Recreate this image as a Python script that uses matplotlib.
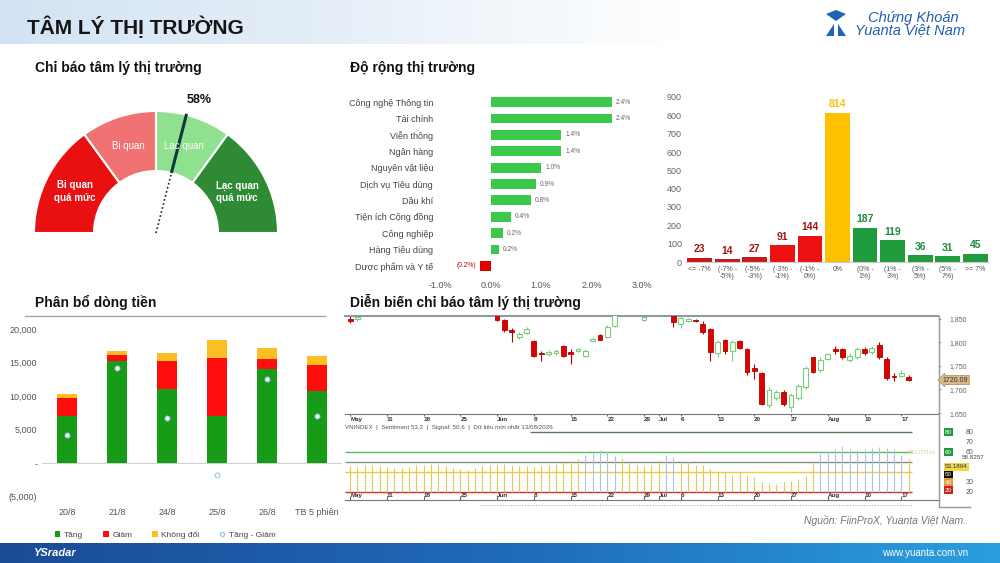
import numpy as np
import matplotlib
matplotlib.use("Agg")
import matplotlib.pyplot as plt
from matplotlib import font_manager as fm
from matplotlib.patches import Wedge, Polygon, Patch
from matplotlib.lines import Line2D
from matplotlib.colors import LinearSegmentedColormap
import matplotlib.transforms as mtransforms

plt.rcParams['font.family'] = ['Liberation Sans', 'DejaVu Sans']
names = {f.name for f in fm.fontManager.ttflist}
narrow = 'Liberation Sans Narrow' if 'Liberation Sans Narrow' in names else 'Liberation Sans'

# ---------------- data ----------------
gauge_bounds = [0, 30, 50, 70, 100]
gauge_labels = ['Bi quan\nquá mức', 'Bi quan', 'Lạc quan', 'Lạc quan\nquá mức']
gauge_value = 58

sectors = ['Công nghệ Thông tin', 'Tài chính', 'Viễn thông', 'Ngân hàng', 'Nguyên vật liệu',
           'Dịch vụ Tiêu dùng', 'Dầu khí', 'Tiện ích Cộng đồng', 'Công nghiệp',
           'Hàng Tiêu dùng', 'Dược phẩm và Y tế']
sector_chg = [2.4, 2.4, 1.4, 1.4, 1.0, 0.9, 0.8, 0.4, 0.24, 0.16, -0.2]

bins = ['<= -7%', '(-7% -\n-5%)', '(-5% -\n-3%)', '(-3% -\n-1%)', '(-1% -\n0%)', '0%',
        '(0% -\n1%)', '(1% -\n3%)', '(3% -\n5%)', '(5% -\n7%)', '>= 7%']
bin_counts = [23, 14, 27, 91, 144, 814, 187, 119, 36, 31, 45]

flow_days = ['20/8', '21/8', '24/8', '25/8', '26/8', 'TB 5 phiên']
flow_up = [7000, 15200, 11000, 7000, 14000, 10800]
flow_down = [2700, 1000, 4200, 8700, 1500, 3800]
flow_flat = [700, 500, 1300, 2600, 1600, 1400]

# VNINDEX candles (trading-day index from 04/05), only those visible in the window
cdl_day = [0, 1, 20, 21, 22, 23, 24, 25, 26, 27, 28, 29, 30, 31, 32, 33, 34, 35, 36, 40,
           44, 45, 46, 47, 48, 49, 50, 51, 52, 53, 54, 55, 56, 57, 58, 59, 60, 61, 62, 63,
           64, 65, 66, 67, 68, 69, 70, 71, 72, 73, 74, 75, 76]
cdl_open = [1850, 1849, 1860, 1847, 1826, 1812, 1820, 1803, 1778, 1775, 1778, 1792, 1780, 1782, 1772, 1803, 1816, 1812, 1835, 1848,
            1856, 1840, 1846, 1848, 1838, 1828, 1778, 1805, 1782, 1802, 1785, 1745, 1735, 1668, 1682, 1695, 1662, 1682, 1705, 1768,
            1742, 1765, 1785, 1785, 1762, 1768, 1785, 1780, 1795, 1765, 1728, 1728, 1727]
cdl_high = [1856, 1858, 1865, 1850, 1830, 1822, 1832, 1805, 1782, 1783, 1785, 1795, 1785, 1788, 1786, 1812, 1818, 1836, 1860, 1858,
            1860, 1856, 1852, 1850, 1845, 1830, 1805, 1808, 1805, 1804, 1788, 1755, 1738, 1705, 1698, 1698, 1692, 1712, 1750, 1770,
            1768, 1778, 1792, 1788, 1778, 1790, 1790, 1792, 1800, 1768, 1736, 1742, 1730]
cdl_low = [1842, 1846, 1845, 1822, 1800, 1808, 1818, 1770, 1760, 1772, 1774, 1770, 1755, 1780, 1768, 1800, 1805, 1810, 1832, 1846,
           1832, 1830, 1844, 1844, 1818, 1760, 1770, 1775, 1760, 1785, 1730, 1722, 1668, 1660, 1678, 1664, 1652, 1678, 1700, 1735,
           1738, 1762, 1775, 1765, 1758, 1765, 1774, 1776, 1765, 1720, 1718, 1726, 1718]
cdl_close = [1845, 1853, 1847, 1826, 1822, 1818, 1828, 1772, 1775, 1780, 1782, 1772, 1776, 1786, 1782, 1808, 1806, 1832, 1858, 1854,
             1844, 1852, 1850, 1845, 1822, 1780, 1800, 1782, 1800, 1788, 1738, 1740, 1670, 1700, 1694, 1670, 1688, 1708, 1745, 1738,
             1762, 1775, 1782, 1768, 1772, 1786, 1778, 1788, 1768, 1724, 1726, 1734, 1720.09]

sentiment = [46, 45, 47, 47, 46, 45, 44, 44, 45, 47,
             47, 48, 47, 46, 44, 43, 42, 44, 46, 47,
             47, 48, 47, 46, 46, 45, 46, 47, 48, 49,
             51, 53, 57, 59, 62, 60, 56, 54, 50, 47,
             46, 47, 52, 57, 55, 50, 50, 47, 47, 43,
             40, 40, 37, 40, 37, 35, 30, 28, 28, 30,
             31, 33, 36, 50, 58, 61, 63, 66, 63, 62,
             63, 64, 65, 64, 63, 57, 53]

tick_days = [0, 5, 10, 15, 20, 25, 30, 35, 40, 42, 45, 50, 55, 60, 65, 70, 75]
tick_labels = ['May', '11', '18', '25', 'Jun', '8', '15', '22', '29', 'Jul',
               '6', '13', '20', '27', 'Aug', '10', '17']

# ---------------- figure ----------------
W, H = 1000, 563
fig = plt.figure(figsize=(10, 5.63), dpi=100)


def ax_at(x0, y0, x1, y1, **kw):
    return fig.add_axes([x0 / W, 1 - y1 / H, (x1 - x0) / W, (y1 - y0) / H], **kw)


bg = fig.add_axes([0, 0, 1, 1], zorder=-10)
bg.set_xlim(0, W)
bg.set_ylim(H, 0)
bg.axis('off')

head_cm = LinearSegmentedColormap.from_list('head', ['#d3e3f3', '#e6eff8', '#ffffff'])
bg.imshow(np.clip(np.arange(W) / 680, 0, 1)[None, :], cmap=head_cm, aspect='auto',
          extent=(0, W, 44, 0), vmin=0, vmax=1)
foot_cm = LinearSegmentedColormap.from_list('foot', ['#1a4b96', '#1f6ab8', '#2a9edf'])
bg.imshow(np.linspace(0, 1, 200)[None, :], cmap=foot_cm, aspect='auto',
          extent=(0, W, H, 543), vmin=0, vmax=1)

fig.text(27 / W, 1 - 27 / H, 'TÂM LÝ THỊ TRƯỜNG', fontsize=15, fontweight='bold',
         family=[narrow, 'DejaVu Sans'], color='#151515', va='center')

# logo
for pts in ([(826, 14), (836, 10), (836, 21)], [(846, 14), (836, 10), (836, 21)],
            [(826, 36), (834, 24), (834, 36)], [(846, 36), (838, 24), (838, 36)]):
    bg.add_patch(Polygon(pts, closed=True, fc='#1f64b0', ec='none'))
fig.text(868 / W, 1 - 18 / H, 'Chứng Khoán', fontsize=10.5, style='italic', color='#1f5fae', va='center')
fig.text(855 / W, 1 - 30 / H, 'Yuanta Việt Nam', fontsize=10.5, style='italic', color='#1f5fae', va='center')

# footer
fig.text(33 / W, 1 - 553 / H, 'YSradar', fontsize=8, style='italic', fontweight='bold', color='white', va='center')
fig.text(968 / W, 1 - 553 / H, 'www.yuanta.com.vn', fontsize=7, color='white', va='center', ha='right')
fig.text(966 / W, 1 - 521 / H, 'Nguồn: FiinProX, Yuanta Việt Nam.', fontsize=7.5, style='italic',
         color='#777777', va='center', ha='right')

# section titles
for x, y, t in [(35, 68, 'Chỉ báo tâm lý thị trường'), (350, 68, 'Độ rộng thị trường'),
                (35, 302, 'Phân bổ dòng tiền'), (350, 302, 'Diễn biến chỉ báo tâm lý thị trường')]:
    fig.text(x / W, 1 - y / H, t, fontsize=10, fontweight='bold', color='#111111', va='center')
bg.plot([25, 325], [316, 316], color='#a6a6a6', lw=1)

# ---------------- gauge ----------------
gauge_colors = ['#e81010', '#f07272', '#8fe08f', '#2e8b34']
axg = ax_at(16, 95, 296, 245)
axg.set_xlim(-140, 140)
axg.set_ylim(-12, 138)
axg.axis('off')
for i in range(4):
    t1 = 180 - gauge_bounds[i + 1] * 1.8
    t2 = 180 - gauge_bounds[i] * 1.8
    axg.add_patch(Wedge((0, 0), 122, t1, t2, width=60, fc=gauge_colors[i], ec='white', lw=1.5))
    mid = np.deg2rad((t1 + t2) / 2)
    axg.text(91 * np.cos(mid), 91 * np.sin(mid), gauge_labels[i], ha='center', va='center',
             color='white', fontsize=7, fontweight='bold' if i in (0, 3) else 'normal', linespacing=1.3)
ang = np.deg2rad(180 - gauge_value * 1.8)
axg.plot([0, 62 * np.cos(ang)], [0, 62 * np.sin(ang)], ls=(0, (1, 1.5)), color='#222222', lw=1.2)
axg.plot([62 * np.cos(ang), 123 * np.cos(ang)], [62 * np.sin(ang), 123 * np.sin(ang)],
         color='#103838', lw=2.2, solid_capstyle='butt')
axg.text(123 * np.cos(ang) + 13, 123 * np.sin(ang) + 8, f'{gauge_value}%', ha='center', va='bottom',
         fontsize=9, fontweight='bold', color='#111111')

# ---------------- sector breadth ----------------
axs = ax_at(440, 94, 642, 274)
ys = np.arange(len(sectors))
axs.barh(ys, sector_chg, height=0.6, color=['#3cc84a' if v >= 0 else '#e00000' for v in sector_chg])
axs.set_ylim(len(sectors) - 0.5, -0.5)
axs.set_xlim(-1, 3)
axs.set_yticks(ys)
axs.set_yticklabels(sectors, fontsize=6.5, color='#444444')
axs.set_xticks([-1, 0, 1, 2, 3])
axs.set_xticklabels(['-1.0%', '0.0%', '1.0%', '2.0%', '3.0%'], fontsize=6.5, color='#555555')
axs.tick_params(length=0, pad=5)
for sp in axs.spines.values():
    sp.set_visible(False)
for v, yy in zip(sector_chg, ys):
    if v >= 0:
        axs.text(v + 0.08, yy, f'{v:.1f}%', va='center', ha='left', fontsize=4.8, color='#666666')
    else:
        axs.text(v - 0.08, yy, f'({abs(v):.1f}%)', va='center', ha='right', fontsize=4.8, color='#c00000')

# ---------------- distribution ----------------
axd = ax_at(686, 97, 989, 262)
bar_cols = ['#c81818'] * 3 + ['#ee1111'] * 2 + ['#ffc000'] + ['#1f9a3c'] * 5
lab_cols = ['#a01818'] * 5 + ['#ffc000'] + ['#1f8a38'] * 5
axd.bar(range(len(bin_counts)), bin_counts, width=0.9, color=bar_cols)
for i, v in enumerate(bin_counts):
    axd.text(i, v + 18, str(v), ha='center', va='bottom', fontsize=7.5, fontweight='bold', color=lab_cols[i])
axd.set_xlim(-0.5, len(bin_counts) - 0.5)
axd.set_ylim(0, 900)
axd.set_yticks(range(0, 1000, 100))
axd.set_yticklabels([str(v) for v in range(0, 1000, 100)], fontsize=6.5, color='#666666')
axd.set_xticks(range(len(bins)))
axd.set_xticklabels(bins, fontsize=5, color='#555555', linespacing=1.0)
axd.tick_params(length=0, pad=3)
for k in ('left', 'top', 'right'):
    axd.spines[k].set_visible(False)
axd.spines['bottom'].set_color('#cccccc')

# ---------------- money flow ----------------
axf = ax_at(42, 329, 342, 497)
xf = np.arange(len(flow_days))
up = np.array(flow_up)
dn = np.array(flow_down)
fl = np.array(flow_flat)
axf.axhline(0, color='#d0d0d0', lw=0.8, zorder=0)
axf.bar(xf, up, 0.4, color='#169c16')
axf.bar(xf, dn, 0.4, bottom=up, color='#ff0d0d')
axf.bar(xf, fl, 0.4, bottom=up + dn, color='#fbbf24')
axf.scatter(xf, up - dn, s=12, facecolor='white', edgecolor='#9cc8ea', lw=0.8, zorder=3)
axf.set_xlim(-0.5, len(flow_days) - 0.5)
axf.set_ylim(-5000, 20000)
axf.set_yticks([-5000, 0, 5000, 10000, 15000, 20000])
axf.set_yticklabels(['(5,000)', '-', '5,000', '10,000', '15,000', '20,000'], fontsize=6.5, color='#555555')
axf.set_xticks(xf)
axf.set_xticklabels(flow_days, fontsize=6.5, color='#555555')
axf.tick_params(length=0)
axf.tick_params(axis='x', pad=8)
for sp in axf.spines.values():
    sp.set_visible(False)
handles = [Patch(fc='#169c16'), Patch(fc='#ff0d0d'), Patch(fc='#fbbf24'),
           Line2D([], [], marker='o', ls='', mfc='white', mec='#9cc8ea', ms=3)]
fig.legend(handles, ['Tăng', 'Giảm', 'Không đổi', 'Tăng - Giảm'], loc='center',
           bbox_to_anchor=(165 / W, 1 - 535 / H), ncol=4, frameon=False, fontsize=6,
           handlelength=0.7, handleheight=0.7, columnspacing=2.4, handletextpad=0.4,
           labelcolor='#444444')

# ---------------- candles ----------------
axc = ax_at(345, 316, 938, 414)
o = np.array(cdl_open)
c = np.array(cdl_close)
h = np.array(cdl_high)
lo = np.array(cdl_low)
d = np.array(cdl_day)
upm = c >= o
axc.vlines(d[upm], lo[upm], h[upm], color='#78cf78', lw=0.8)
axc.vlines(d[~upm], lo[~upm], h[~upm], color='#b00000', lw=0.8)
axc.bar(d[upm], c[upm] - o[upm], bottom=o[upm], width=0.65, facecolor='white',
        edgecolor='#78cf78', lw=0.8, zorder=3)
axc.bar(d[~upm], o[~upm] - c[~upm], bottom=c[~upm], width=0.65, facecolor='#e00000',
        edgecolor='#b00000', lw=0.6, zorder=3)
axc.set_xlim(-0.7, 80)
axc.set_ylim(1648, 1856)
axc.yaxis.tick_right()
axc.set_yticks([1650, 1700, 1750, 1800, 1850])
axc.set_yticklabels(['1,650', '1,700', '1,750', '1,800', '1,850'], fontsize=5, color='#666666')
axc.tick_params(axis='y', length=2, pad=6, color='#999999')
axc.set_xticks(tick_days)
axc.set_xticklabels(tick_labels, fontsize=4.5, color='#333333', ha='left', fontweight='bold')
axc.tick_params(axis='x', length=1.5, pad=0.5, color='#666666')
axc.spines['left'].set_visible(False)
axc.spines['right'].set_visible(False)
axc.spines['top'].set_color('#8d9aa6')
axc.spines['top'].set_linewidth(1.5)
axc.spines['bottom'].set_color('#777777')
tr_c = mtransforms.blended_transform_factory(axc.transAxes, axc.transData)
axc.text(1.008, cdl_close[-1], f'{cdl_close[-1]:.2f}', transform=tr_c, fontsize=5, color='#333333',
         va='center', ha='left', bbox=dict(boxstyle='larrow,pad=0.15', fc='#d9b88c', ec='#b08850', lw=0.5))

fig.text(345 / W, 1 - 428 / H, 'VNINDEX  |  Sentiment 53.2  |  Signal: 50.6  |  Dữ liệu mới nhất 13/08/2026',
         fontsize=4.5, color='#555555', va='center')

# ---------------- sentiment ----------------
axm = ax_at(345, 428, 938, 500)
sd = np.arange(len(sentiment))
sv = np.array(sentiment)
axm.hlines(80, 24.5, len(sentiment) - 0.5, color='#5a7a5a', lw=1)
for lvl, col in [(60, '#5cb85c'), (50, '#8a8a8a'), (40, '#e8d040'), (20, '#d03030')]:
    axm.hlines(lvl, -0.7, len(sentiment) - 0.5, color=col, lw=1, zorder=1)
axm.vlines(sd, 20, sv, colors=['#a9c4dc' if v >= 55 else '#e8c850' for v in sv], lw=0.8, zorder=2)
axm.set_xlim(-0.7, 80)
axm.set_ylim(12, 84)
axm.set_xticks(tick_days)
axm.set_xticklabels(tick_labels, fontsize=4.5, color='#333333', ha='left', fontweight='bold')
axm.tick_params(axis='x', direction='in', length=3, pad=-5, color='#666666')
axm.yaxis.tick_right()
axm.set_yticks([80, 70, 60, 30, 20])
axm.set_yticklabels(['80', '70', '60', '30', '20'], fontsize=5, color='#555555')
axm.tick_params(axis='y', length=0, pad=20)
for k in ('left', 'top', 'right'):
    axm.spines[k].set_visible(False)
axm.spines['bottom'].set_color('#777777')
tr_m = mtransforms.blended_transform_factory(axm.transAxes, axm.transData)
for yv, txt, fc, tc in [(80, '80', '#1e9b3c', 'white'), (60, '60', '#1e9b3c', 'white'),
                        (45, '53.1894', '#f0d84a', '#333333'), (37, '50', '#111111', 'white'),
                        (30, '40', '#e89a3a', 'white'), (22, '20', '#cc2222', 'white')]:
    axm.text(1.012, yv, txt, transform=tr_m, fontsize=4.5, color=tc, va='center', ha='left',
             bbox=dict(boxstyle='square,pad=0.2', fc=fc, ec='none'))
axm.text(1.04, 54.5, '58.8257', transform=tr_m, fontsize=4.5, color='#444444', va='center', ha='left')
axm.text(0.998, 60, 'NEUTRAL', transform=tr_m, fontsize=4.5, color='#e3d39a', va='center', ha='right')

bg.plot([939, 939], [316, 507], color='#8d9aa6', lw=1)
bg.plot([939, 970], [507, 507], color='#8d9aa6', lw=1)
bg.plot([480, 912], [505, 505], color='#b0b0b0', lw=0.8, ls=(0, (1, 1.5)))

fig.savefig('out.png', dpi=100)
